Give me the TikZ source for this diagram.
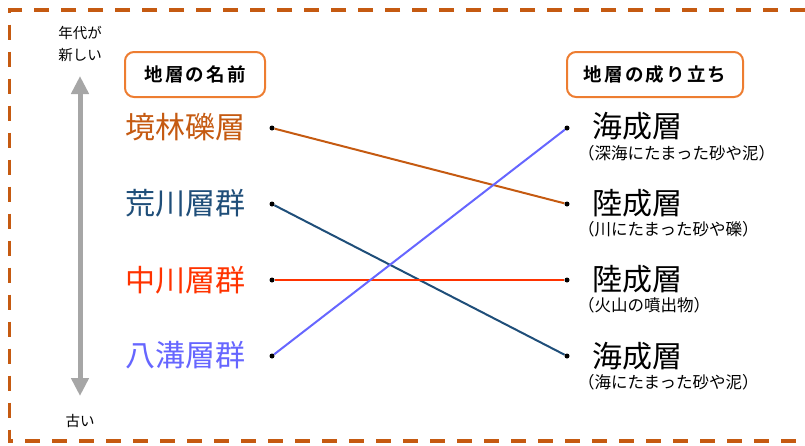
\documentclass[tikz,border=0pt]{standalone}
\usepackage{fontspec}
\setmainfont{Noto Sans CJK JP}
\newfontfamily\jpbold[LetterSpace=12]{Noto Sans CJK JP Bold}
\usetikzlibrary{arrows.meta}
\definecolor{frameor}{HTML}{C55A11}
\definecolor{boxor}{HTML}{ED7D31}
\definecolor{cSakai}{HTML}{C55A11}
\definecolor{cAra}{HTML}{1F4E79}
\definecolor{cNaka}{HTML}{FF3300}
\definecolor{cYami}{HTML}{6666FF}
\definecolor{arrgray}{HTML}{A6A6A6}
\tikzset{
  headbox/.style={draw=boxor,line width=2pt,rounded corners=9pt,minimum height=45pt,inner sep=0pt,font=\jpbold\fontsize{18.5}{20}\selectfont},
  lname/.style={anchor=west,inner sep=0pt,font=\fontsize{30}{32}\selectfont},
  rname/.style={anchor=west,inner sep=0pt,font=\fontsize{30}{32}\selectfont},
  rsub/.style={anchor=west,inner sep=0pt,font=\fontsize{16.5}{18}\selectfont},
  dot/.style={circle,fill=black,inner sep=0pt,minimum size=5pt},
  link/.style={line width=2pt},
  small/.style={inner sep=0pt,font=\fontsize{14.5}{22}\selectfont,align=center}
}
\begin{document}
\begin{tikzpicture}[x=1pt,y=-1pt]
\useasboundingbox (0,0) rectangle (805,445);
% frame
\draw[frameor,line width=3.5pt,dash pattern=on 15pt off 12pt] (805,10) -- (9.5,10) -- (9.5,441) -- (805,441);
% time arrow
\node[small] (new) at (80,44) {年代が\\新しい};
\node[small] (old) at (80,421) {古い};
\coordinate (atop) at (80,76);
\coordinate (abot) at (80,396);
\draw[arrgray,line width=5pt,{Triangle[width=17pt,length=18pt]}-{Triangle[width=17pt,length=18pt]}] (atop) -- (abot);
% header boxes
\node[headbox,minimum width=140pt] (h1) at (195,74.5) {地層の名前};
\node[headbox,minimum width=176pt] (h2) at (655,74.5) {地層の成り立ち};
% left names
\node[lname,text=cSakai] (n1) at (125,127) {境林礫層};
\node[lname,text=cAra] (n2) at (125,203) {荒川層群};
\node[lname,text=cNaka] (n3) at (125,280) {中川層群};
\node[lname,text=cYami] (n4) at (125,355) {八溝層群};
% left dots
\node[dot] (l1) at (272,128) {};
\node[dot] (l2) at (272,204) {};
\node[dot] (l3) at (272,280) {};
\node[dot] (l4) at (272,356) {};
% right dots
\node[dot] (r1) at (567,128) {};
\node[dot] (r2) at (567,204) {};
\node[dot] (r3) at (567,280) {};
\node[dot] (r4) at (567,356) {};
% right names
\node[rname] (o1) at (592,126) {海成層};
\node[rsub] (s1) at (578,153) {（深海にたまった砂や泥）};
\node[rname] (o2) at (592,203) {陸成層};
\node[rsub] (s2) at (578,229) {（川にたまった砂や礫）};
\node[rname] (o3) at (592,279) {陸成層};
\node[rsub] (s3) at (578,305) {（火山の噴出物）};
\node[rname] (o4) at (592,356) {海成層};
\node[rsub] (s4) at (578,382) {（海にたまった砂や泥）};
% links
\draw[link,cSakai] (l1) -- (r2);
\draw[link,cAra] (l2) -- (r4);
\draw[link,cNaka] (l3) -- (r3);
\draw[link,cYami] (l4) -- (r1);
\end{tikzpicture}
\end{document}
